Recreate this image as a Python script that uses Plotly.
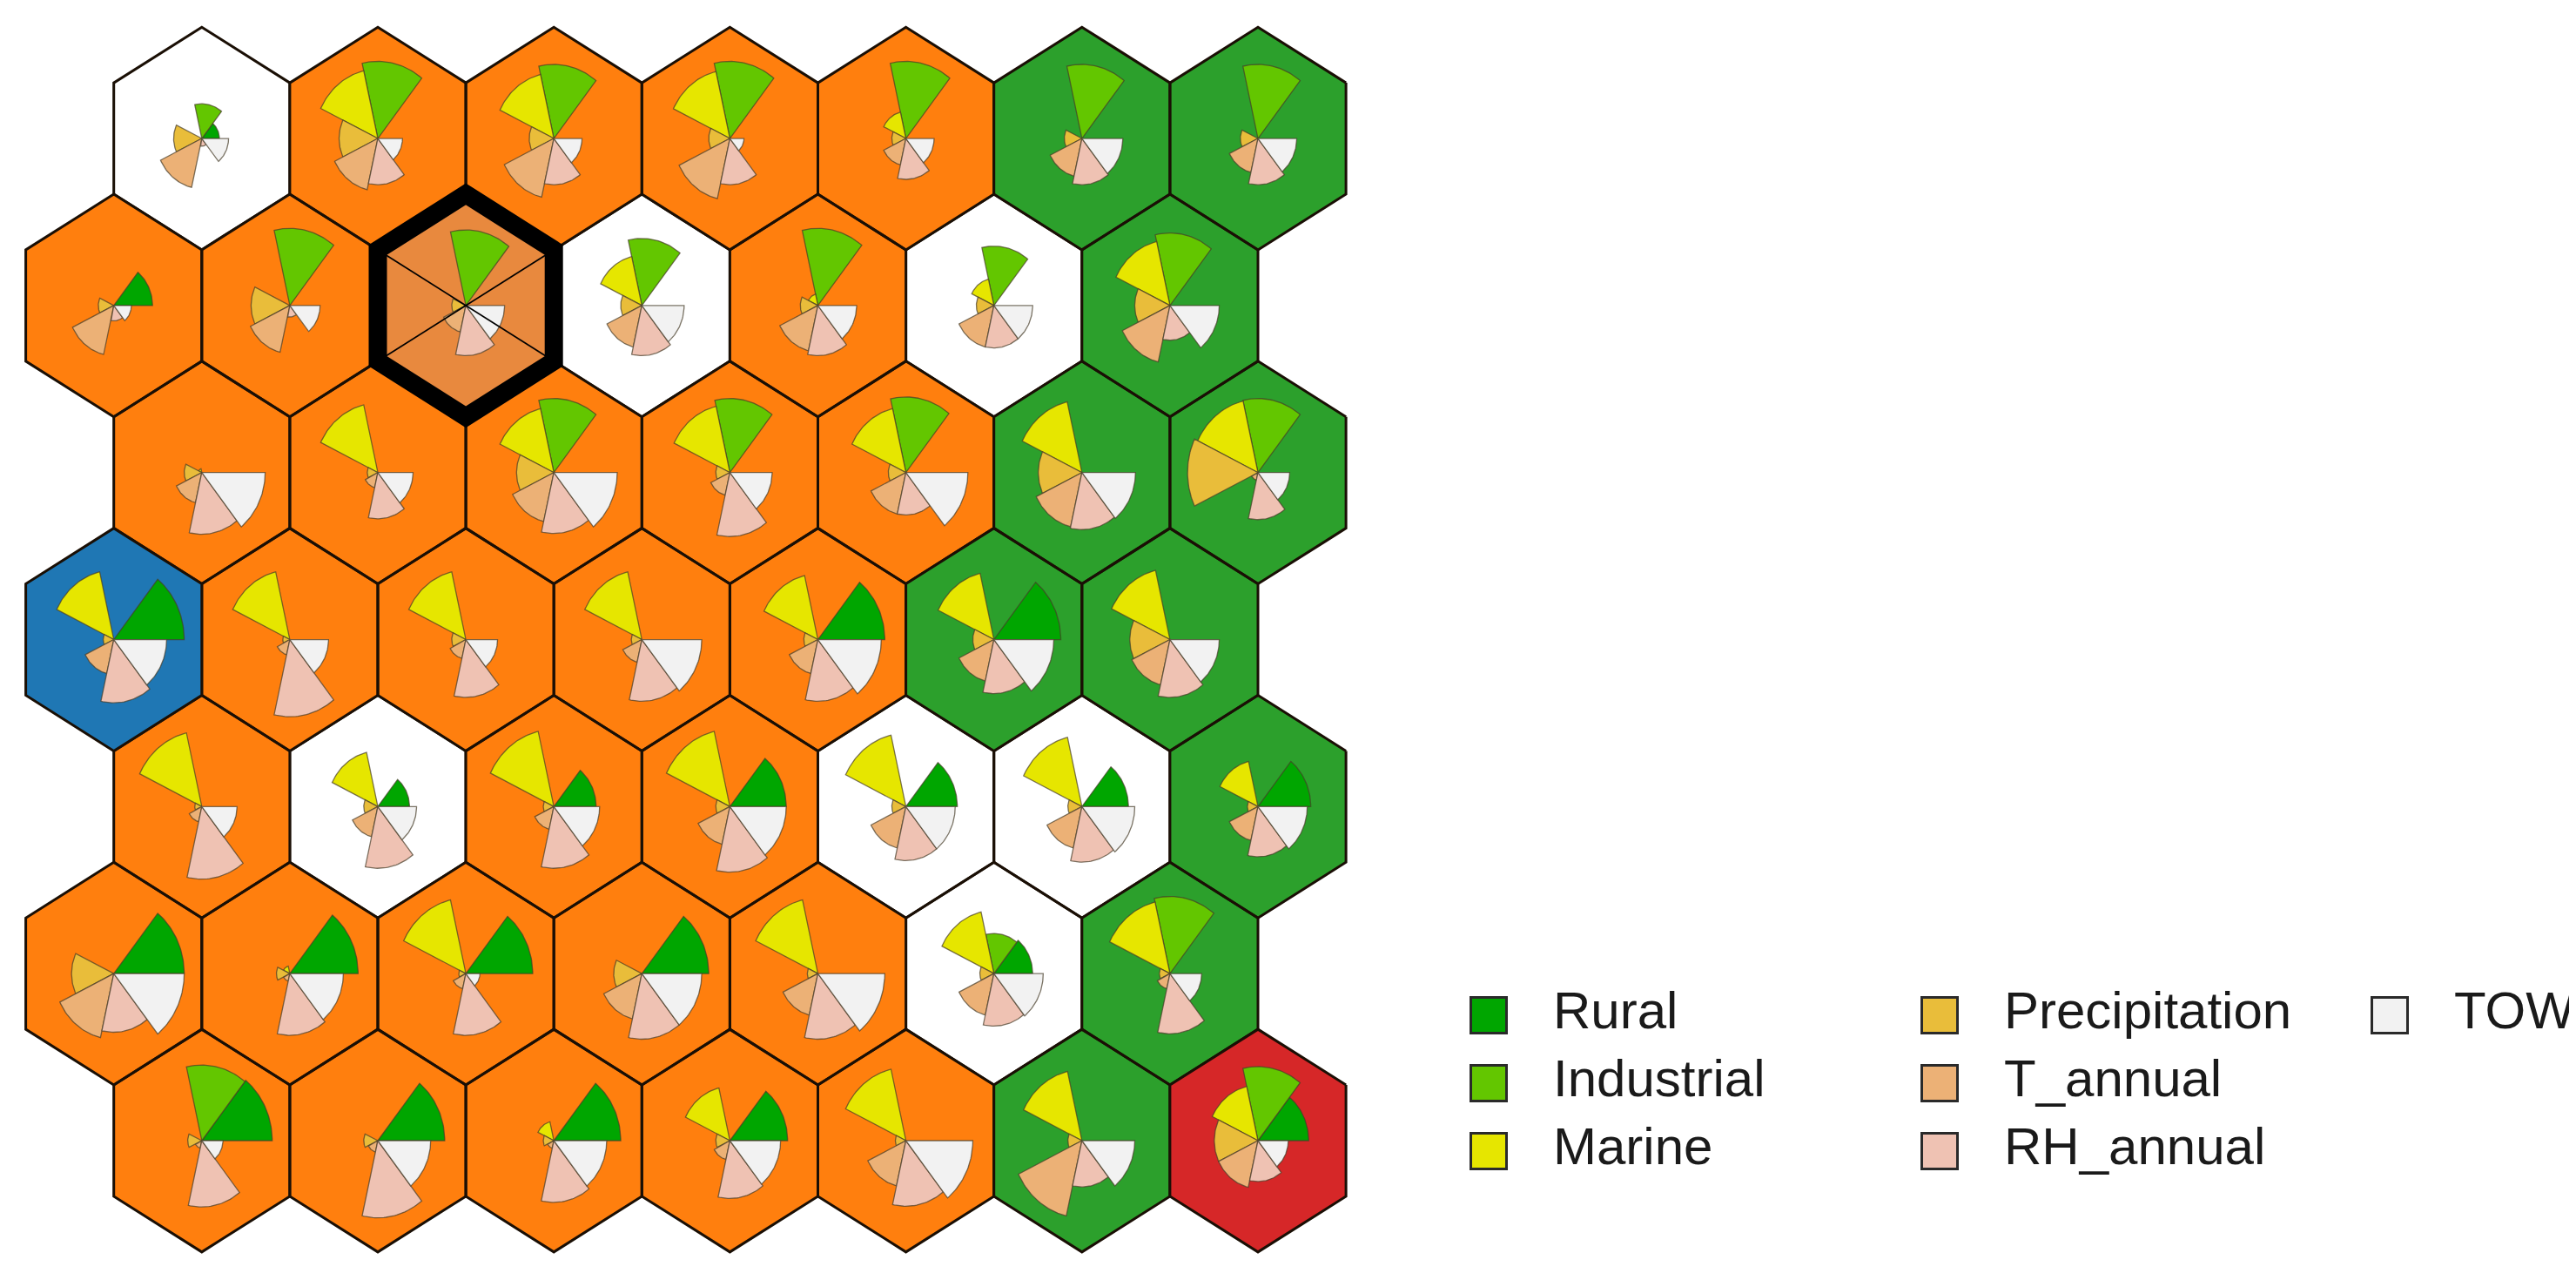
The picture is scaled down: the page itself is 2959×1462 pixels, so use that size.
import numpy as np
import plotly.graph_objects as go

# SOM codes plot, 7 x 7 hexagonal map, rows listed from the top of the map down
variables = ["Rural", "Industrial", "Marine", "Precipitation", "T_annual", "RH_annual", "TOW"]
segment_colors = ["#00A600", "#63C600", "#E6E600", "#E9BD3A", "#ECB176", "#EFC2B3", "#F2F2F2"]

rural = [
    [0.25, 0, 0, 0, 0, 0, 0],
    [0.55, 0, 0, 0, 0, 0, 0],
    [0, 0, 0, 0, 0, 0, 0],
    [1.0, 0, 0, 0, 0.95, 0.95, 0],
    [0, 0.45, 0.6, 0.8, 0.73, 0.66, 0.75],
    [1.0, 0.97, 0.95, 0.95, 0, 0.55, 0],
    [1.0, 0.95, 0.95, 0.82, 0, 0, 0.72],
]
industrial = [
    [0.45, 1.0, 0.96, 1.0, 1.0, 0.96, 0.96],
    [0, 1.0, 0.98, 0.87, 1.0, 0.77, 0.94],
    [0, 0, 0.96, 0.96, 0.98, 0, 0.96],
    [0, 0, 0, 0, 0, 0, 0],
    [0, 0, 0, 0, 0, 0, 0],
    [0, 0, 0, 0, 0, 0.52, 1.0],
    [0.98, 0, 0, 0, 0, 0, 0.96],
]
marine = [
    [0, 0.9, 0.85, 0.89, 0.35, 0, 0],
    [0, 0, 0, 0.65, 0.15, 0.35, 0.85],
    [0.05, 0.9, 0.85, 0.88, 0.85, 0.94, 0.95],
    [0.9, 0.9, 0.9, 0.9, 0.85, 0.88, 0.92],
    [0.98, 0.72, 1.0, 1.0, 0.95, 0.92, 0.6],
    [0, 0.1, 0.98, 0, 0.98, 0.82, 0.95],
    [0, 0, 0.25, 0.7, 0.95, 0.92, 0.72],
]
precipitation = [
    [0.4, 0.55, 0.35, 0.3, 0.2, 0.25, 0.25],
    [0.22, 0.55, 0.2, 0.3, 0.25, 0.25, 0.5],
    [0.25, 0.15, 0.53, 0.2, 0.25, 0.62, 1.0],
    [0.15, 0.1, 0.2, 0.15, 0.2, 0.3, 0.57],
    [0.1, 0.2, 0.15, 0.2, 0.2, 0.2, 0.15],
    [0.6, 0.19, 0.1, 0.4, 0.15, 0.2, 0.15],
    [0.2, 0.2, 0.15, 0.2, 0.15, 0.2, 0.62],
]
t_annual = [
    [0.65, 0.68, 0.78, 0.8, 0.35, 0.5, 0.45],
    [0.65, 0.62, 0.35, 0.55, 0.6, 0.55, 0.75],
    [0.4, 0.2, 0.65, 0.3, 0.55, 0.72, 0.1],
    [0.45, 0.2, 0.25, 0.3, 0.45, 0.55, 0.6],
    [0.2, 0.4, 0.3, 0.5, 0.55, 0.55, 0.45],
    [0.85, 0.1, 0.2, 0.6, 0.55, 0.55, 0.2],
    [0.1, 0.15, 0.1, 0.25, 0.6, 1.0, 0.62],
]
rh_annual = [
    [0.1, 0.6, 0.6, 0.6, 0.53, 0.6, 0.6],
    [0.2, 0.15, 0.65, 0.65, 0.65, 0.55, 0.45],
    [0.8, 0.6, 0.79, 0.83, 0.55, 0.74, 0.61],
    [0.82, 1.0, 0.75, 0.8, 0.8, 0.7, 0.75],
    [0.94, 0.8, 0.8, 0.85, 0.7, 0.72, 0.65],
    [0.76, 0.8, 0.8, 0.85, 0.85, 0.68, 0.78],
    [0.86, 1.0, 0.8, 0.75, 0.85, 0.6, 0.53],
]
tow = [
    [0.38, 0.35, 0.4, 0.2, 0.4, 0.58, 0.55],
    [0.25, 0.43, 0.55, 0.6, 0.55, 0.55, 0.7],
    [0.9, 0.5, 0.9, 0.6, 0.88, 0.76, 0.45],
    [0.75, 0.55, 0.45, 0.85, 0.9, 0.85, 0.7],
    [0.5, 0.55, 0.65, 0.8, 0.7, 0.75, 0.7],
    [1.0, 0.76, 0.2, 0.85, 0.95, 0.7, 0.45],
    [0.3, 0.75, 0.75, 0.72, 0.95, 0.75, 0.43],
]
codes = [rural, industrial, marine, precipitation, t_annual, rh_annual, tow]

# cluster of each node: 0 none, 1 orange, 2 green, 3 blue, 4 red
clusters = [
    [0, 1, 1, 1, 1, 2, 2],
    [1, 1, 1, 0, 1, 0, 2],
    [1, 1, 1, 1, 1, 2, 2],
    [3, 1, 1, 1, 1, 2, 2],
    [1, 0, 1, 1, 0, 0, 2],
    [1, 1, 1, 1, 1, 0, 2],
    [1, 1, 1, 1, 1, 2, 4],
]
cluster_colors = ["#FFFFFF", "#FF7F0E", "#2CA02C", "#1F77B4", "#D62728"]
selected_node = (1, 2)

HEX_R = 1 / np.sqrt(3)
SEG_LEN = 0.4
n_rows = len(clusters)


def node_center(r, c):
    x = c + (0.5 if r % 2 == 0 else 0.0)
    y = (n_rows - 1 - r) * np.sqrt(3) / 2
    return x, y


def hexagon(cx, cy, wrap=0):
    # wrap > 0 runs past the start vertex so a thick outline joins cleanly
    ang = np.radians(np.arange(30, 391 + 60 * wrap, 60))
    return list(cx + HEX_R * np.cos(ang)), list(cy + HEX_R * np.sin(ang))


def segment(cx, cy, k, value, nvar=7):
    a0 = 2 * np.pi * k / nvar
    a1 = 2 * np.pi * (k + 1) / nvar
    ang = np.linspace(a0, a1, 30)
    rad = value * SEG_LEN
    xs = [cx] + list(cx + rad * np.cos(ang)) + [cx]
    ys = [cy] + list(cy + rad * np.sin(ang)) + [cy]
    return xs, ys


fig = go.Figure()

# hexagon backgrounds, one trace per cluster colour
for ci, col in enumerate(cluster_colors):
    xs, ys = [], []
    for r in range(n_rows):
        for c in range(len(clusters[r])):
            if clusters[r][c] != ci or (r, c) == selected_node:
                continue
            cx, cy = node_center(r, c)
            hx, hy = hexagon(cx, cy)
            xs += hx + [None]
            ys += hy + [None]
    fig.add_trace(go.Scatter(x=xs, y=ys, mode="lines", fill="toself", fillcolor=col,
                             line=dict(color="#1a0f05", width=3),
                             hoverinfo="skip", showlegend=False))

# selected node: thick border
sx, sy = node_center(*selected_node)
hx, hy = hexagon(sx, sy, wrap=1)
fig.add_trace(go.Scatter(x=hx, y=hy, mode="lines", fill="toself", fillcolor="#E8893E",
                         line=dict(color="#000000", width=21), hoverinfo="skip", showlegend=False))

# fan segments, one trace per variable
for k, name in enumerate(variables):
    xs, ys = [], []
    for r in range(n_rows):
        for c in range(len(codes[k][r])):
            v = codes[k][r][c]
            if v <= 0:
                continue
            cx, cy = node_center(r, c)
            px, py = segment(cx, cy, k, v)
            xs += px + [None]
            ys += py + [None]
    fig.add_trace(go.Scatter(x=xs, y=ys, mode="lines", fill="toself",
                             fillcolor=segment_colors[k],
                             line=dict(color="rgba(70,60,40,0.7)", width=1.3),
                             name=name, hoverinfo="skip", showlegend=False))

# cross lines in the selected node
dx, dy = [], []
for a in (150, 30):
    t = np.radians([a, a + 180])
    dx += list(sx + HEX_R * np.cos(t)) + [None]
    dy += list(sy + HEX_R * np.sin(t)) + [None]
fig.add_trace(go.Scatter(x=dx, y=dy, mode="lines", line=dict(color="#000000", width=1.8),
                         hoverinfo="skip", showlegend=False))

# legend drawn in pixel space on an overlay axis
leg_cols_px = [1702, 2220, 2737]
leg_rows_px = [1158, 1236, 1314]
lx, ly = [], []
for k in range(len(variables)):
    lx.append(leg_cols_px[k // 3])
    ly.append(leg_rows_px[k % 3])
fig.add_trace(go.Scatter(x=lx, y=ly, mode="markers", xaxis="x2", yaxis="y2",
                         marker=dict(symbol="square", size=41, color=segment_colors,
                                     line=dict(color="#2a2a2a", width=3)),
                         hoverinfo="skip", showlegend=False))
fig.add_trace(go.Scatter(x=[v + 74 for v in lx], y=ly, mode="text", xaxis="x2", yaxis="y2",
                         text=variables, textposition="middle right",
                         textfont=dict(size=60, color="#1a1a1a", family="Liberation Sans, Arial"),
                         hoverinfo="skip", showlegend=False, cliponaxis=False))

W, H = 2959, 1462
px_x, px_y = 202.2, 221.5
x0_px, y0_px = 122.7, 1302.0
fig.update_layout(
    width=W, height=H,
    margin=dict(l=0, r=0, t=0, b=0),
    paper_bgcolor="white", plot_bgcolor="rgba(0,0,0,0)",
    xaxis=dict(range=[-x0_px / px_x, (W - x0_px) / px_x], visible=False, domain=[0, 1]),
    yaxis=dict(range=[(y0_px - H) / px_y, y0_px / px_y], visible=False, domain=[0, 1]),
    xaxis2=dict(range=[0, W], visible=False, overlaying="x", anchor="y2"),
    yaxis2=dict(range=[H, 0], visible=False, overlaying="y", anchor="x2"),
    showlegend=False,
)

fig.write_html("out.html")
